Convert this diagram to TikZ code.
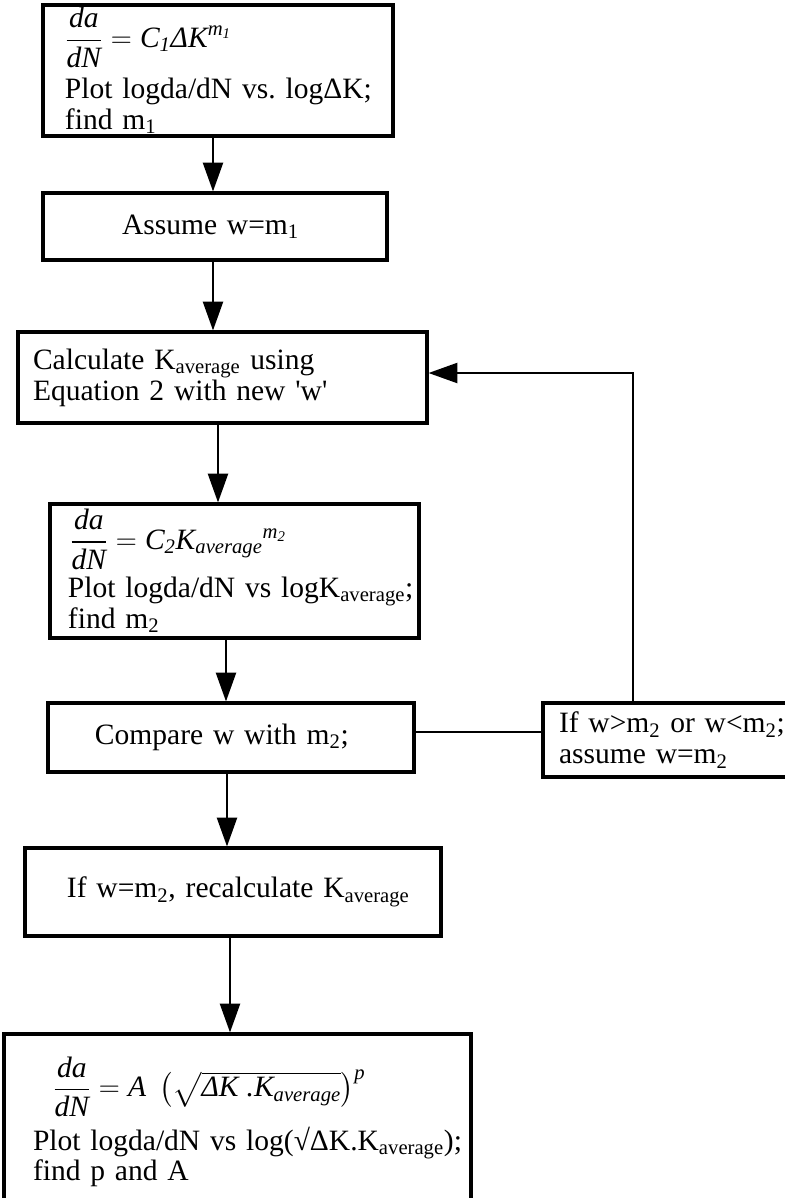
\documentclass[tikz,border=0pt]{standalone}
\usepackage{amsmath}
\usepackage{fontspec}
\setmainfont{Liberation Serif}
\usetikzlibrary{arrows.meta}
\newcommand{\dadN}{\dfrac{\textit{da}}{\textit{dN}}}

\begin{document}
\begin{tikzpicture}[
      stepbox/.style={draw,line width=2.2pt,inner xsep=0.1cm,inner ysep=0pt,
                      align=left,font=\fontsize{21pt}{22pt}\selectfont},
      flow/.style={-{Triangle[length=0.72cm,width=0.5cm]},line width=1.6pt},
      link/.style={line width=1.6pt}]
    \useasboundingbox (0,0) rectangle (19.625,-29.95);
    \node[stepbox,text width=8.55cm,minimum height=3.275cm] (derive) at (5.45,-1.7625)
      {\hspace*{0.45cm}$\dadN = \textit{C}_{\textit{1}}\textit{ΔK}^{\textit{m}_{\textit{1}}}$\\[0.22cm]%
\hspace*{0.45cm}\mbox{Plot logda/dN vs.\ logΔK;}\\%
\hspace*{0.45cm}find m\textsubscript{1}};
    \node[stepbox,text width=8.4cm,minimum height=1.675cm] (assume) at (5.375,-5.6625)
      {\hspace*{1.875cm}Assume w=m\textsubscript{1}};
    \node[stepbox,text width=10.025cm,minimum height=2.275cm] (calc) at (5.5625,-9.4375)
      {\hspace*{0.275cm}Calculate K\textsubscript{average} using\\%
\hspace*{0.275cm}Equation 2 with new \textquotesingle w\textquotesingle};
    \node[stepbox,text width=9.025cm,minimum height=3.35cm] (powerfit) at (5.8625,-14.275)
      {\hspace*{0.4cm}$\dadN = \textit{C}_{\textit{2}}\textit{K}_{\textit{average}}{}^{\textit{m}_{\textit{2}}}$\\[0.15cm]%
\hspace*{0.35cm}\mbox{Plot logda/dN vs logK\textsubscript{average};}\\%
\hspace*{0.35cm}find m\textsubscript{2}};
    \node[stepbox,text width=8.95cm,minimum height=1.725cm] (compare) at (5.775,-18.4375)
      {\hspace*{1.075cm}Compare w with m\textsubscript{2};};
    \node[stepbox,text width=6.225cm,minimum height=1.85cm] (retry) at (16.7875,-18.5)
      {\hspace*{0.3cm}If w>m\textsubscript{2} or w<m\textsubscript{2};\\%
\hspace*{0.3cm}assume w=m\textsubscript{2}};
    \node[stepbox,text width=10.2cm,minimum height=2.2cm] (recalc) at (5.825,-22.3)
      {\hspace*{0.95cm}If w=m\textsubscript{2}, recalculate K\textsubscript{average}};
    \node[stepbox,text width=11.475cm,minimum height=4.4cm] (result) at (5.9375,-28.05)
      {\hspace*{1.125cm}$\dadN = \textit{A}\;\left(\sqrt{\textit{ΔK}\;\textit{.K}_{\textit{average}}}\right)^{\textit{p}}$\\[0.2cm]%
\hspace*{0.625cm}\mbox{Plot logda/dN vs log(√ΔK.K\textsubscript{average});}\\%
\hspace*{0.625cm}find p and A};
    \draw[flow] ([xshift=-0.125cm]derive.south) -- ([xshift=-0.125cm]derive.south |- assume.north);
    \draw[flow] ([xshift=-0.05cm]assume.south) -- ([xshift=-0.05cm]assume.south |- calc.north);
    \draw[flow] ([xshift=-0.1125cm]calc.south) -- ([xshift=-0.1125cm]calc.south |- powerfit.north);
    \draw[flow] ([xshift=-0.2125cm]powerfit.south) -- ([xshift=-0.2125cm]powerfit.south |- compare.north);
    \draw[flow] ([xshift=-0.1cm]compare.south) -- ([xshift=-0.1cm]compare.south |- recalc.north);
    \draw[flow] ([xshift=-0.075cm]recalc.south) -- ([xshift=-0.075cm]recalc.south |- result.north);
    \draw[link] ([yshift=0.14cm]compare.east) -- ([yshift=0.14cm]compare.east -| retry.west);
    \draw[flow] ([xshift=-0.9625cm]retry.north) |- ([yshift=0.1125cm]calc.east);
  \end{tikzpicture}
\end{document}
